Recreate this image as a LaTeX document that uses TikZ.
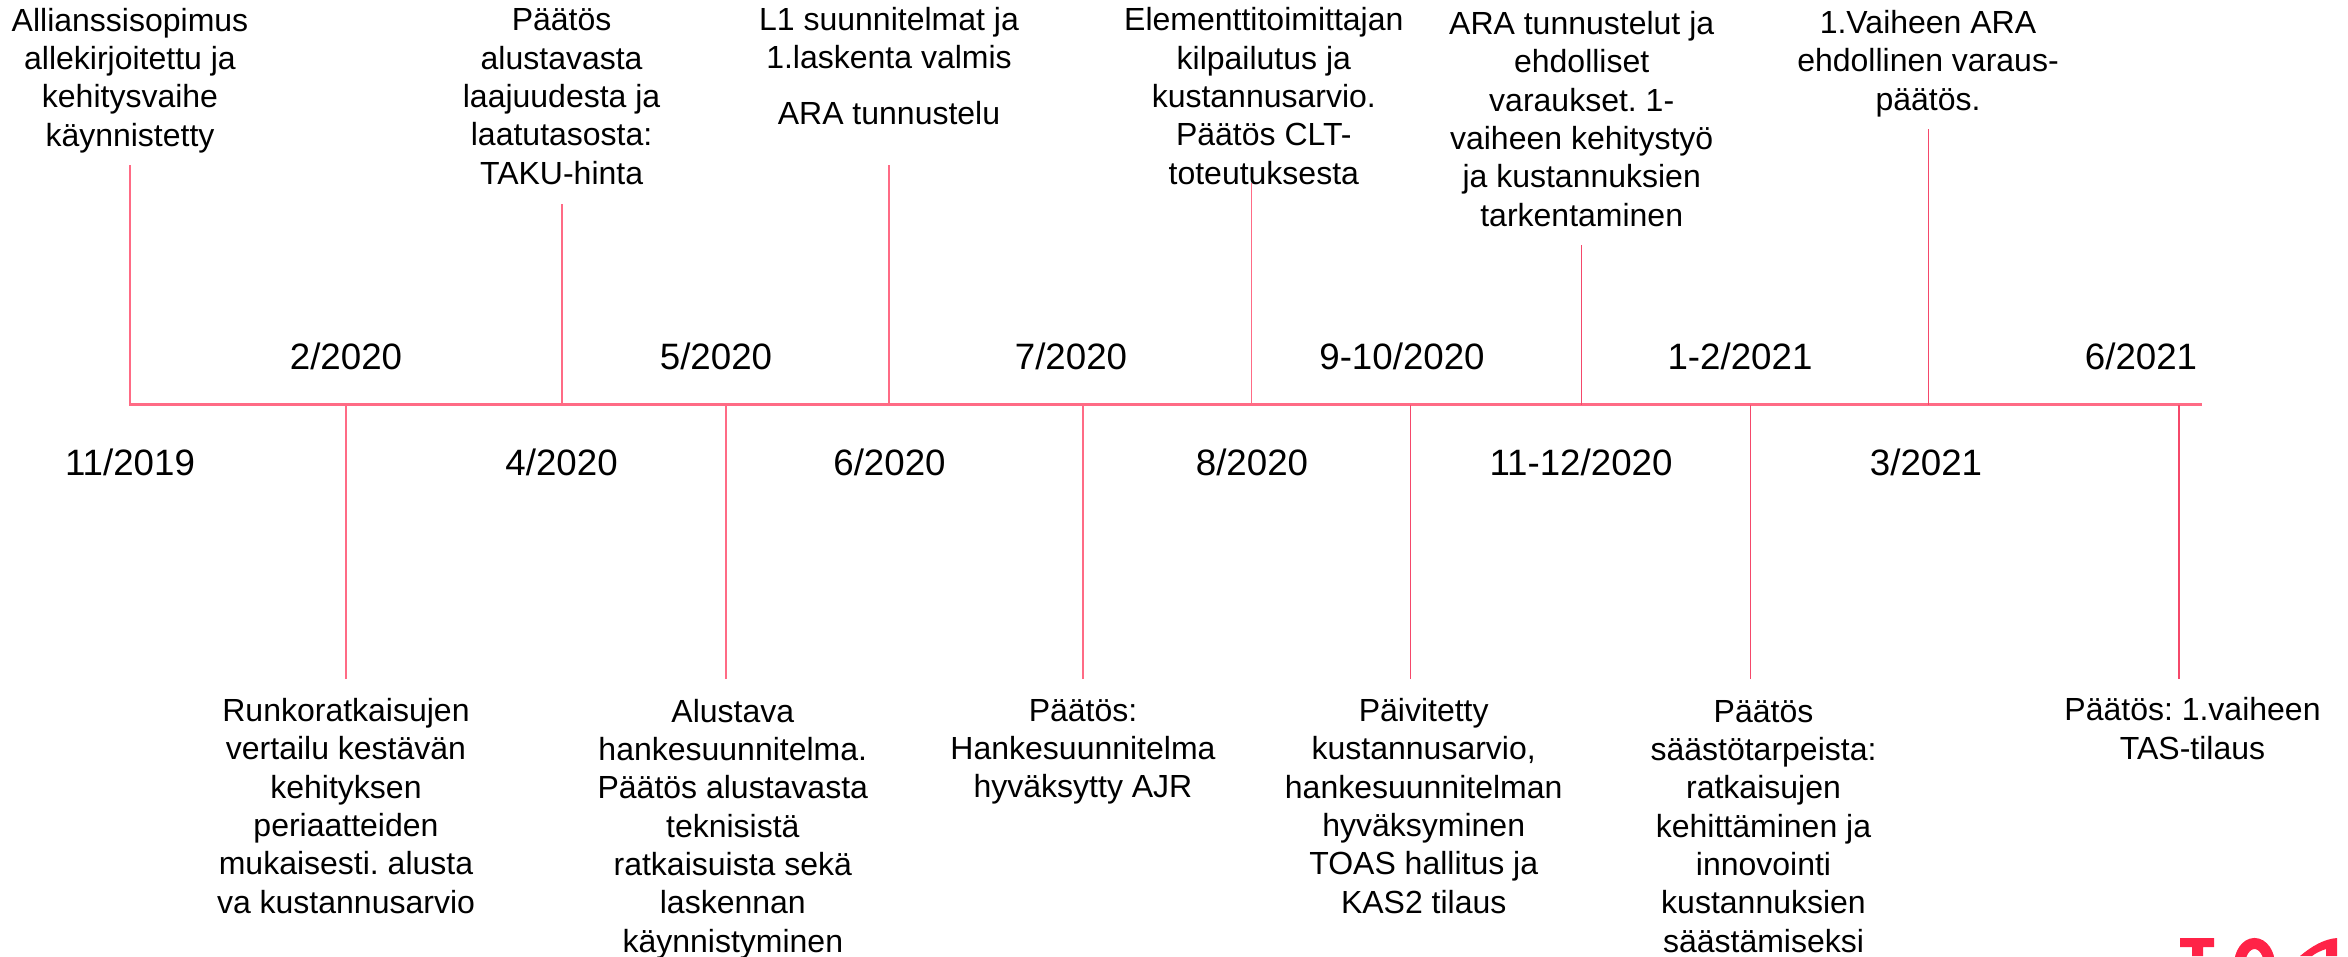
\documentclass[tikz,border=0pt]{standalone}
\usepackage{fontspec}
\setmainfont{Liberation Sans}
\frenchspacing
\definecolor{toasline}{HTML}{FF6B85}
\definecolor{toasthin}{HTML}{F5486A}
\definecolor{toaslogo}{HTML}{FF2347}
\tikzset{
  spine/.style={draw=toasline,line width=2.2pt},
  stem/.style={draw=toasline,line width=1.8pt},
  thinstem/.style={draw=toasthin,line width=1.3pt},
  body/.style={anchor=base,inner sep=0pt,align=center,font=\fontsize{32}{38.3}\selectfont},
  datelabel/.style={anchor=base,inner sep=0pt,font=\fontsize{36.7}{42}\selectfont},
}
\begin{document}
\begin{tikzpicture}[x=1pt,y=-1pt]
\useasboundingbox (0,0) rectangle (2348,956);
% dates
\foreach \n/\x/\t in {d1/346/2\slash 2020,d2/716/5\slash 2020,d3/1071/7\slash 2020,d4/1402/9-10\slash 2020,d5/1740/1-2\slash 2021,d6/2141/6\slash 2021}
  \node[datelabel] (\n) at (\x,369) {\t};
\foreach \n/\x/\t in {e1/130/11\slash 2019,e2/561.6/4\slash 2020,e3/889.5/6\slash 2020,e4/1252/8\slash 2020,e5/1581/11-12\slash 2020,e6/1926/3\slash 2021}
  \node[datelabel] (\n) at (\x,475) {\t};
% text blocks: 'anchor=base' on a multi-line node refers to its last line
\node[body] (a1) at (130,146) {Allianssisopimus\\allekirjoitettu ja\\kehitysvaihe\\käynnistetty};
\node[body] (a2) at (561.6,184) {Päätös\\alustavasta\\laajuudesta ja\\laatutasosta:\\TAKU-hinta};
\node[body] (a3) at (889,124) {L1 suunnitelmat ja\\1.laskenta valmis\\[17pt]ARA tunnustelu};
\node[body] (a4) at (1263.8,184) {Elementtitoimittajan\\kilpailutus ja\\kustannusarvio.\\Päätös CLT-\\toteutuksesta};
\node[body] (a5) at (1581.7,226) {ARA tunnustelut ja\\ehdolliset\\varaukset. 1-\\vaiheen kehitystyö\\ja kustannuksien\\tarkentaminen};
\node[body] (a6) at (1928,110) {1.Vaiheen ARA\\ehdollinen varaus-\\päätös.};
\node[body] (b1) at (346,913) {Runkoratkaisujen\\vertailu kestävän\\kehityksen\\periaatteiden\\mukaisesti. alusta\\va kustannusarvio};
\node[body] (b2) at (732.8,952) {Alustava\\hankesuunnitelma.\\Päätös alustavasta\\teknisistä\\ratkaisuista sekä\\laskennan\\käynnistyminen};
\node[body] (b3) at (1083,797.7) {Päätös:\\Hankesuunnitelma\\hyväksytty AJR};
\node[body] (b4) at (1423.7,913) {Päivitetty\\kustannusarvio,\\hankesuunnitelman\\hyväksyminen\\TOAS hallitus ja\\KAS2 tilaus};
\node[body] (b5) at (1763.5,952) {Päätös\\säästötarpeista:\\ratkaisujen\\kehittäminen ja\\innovointi\\kustannuksien\\säästämiseksi};
\node[body] (b6) at (2192.5,759) {Päätös: 1.vaiheen\\TAS-tilaus};
% spine
\coordinate (s0) at (130,404.5);
\coordinate (s1) at (2201,404.5);
\draw[spine,line cap=rect] (s0) -- (s1);
% upward stems
\foreach \n/\x/\y/\k in {u1/130/165/stem,u2/561.6/204/stem,u3/889.3/165/stem,u4/1251.5/183/stem,u5/1581.7/245/thinstem,u6/1928.3/129/thinstem}{
  \coordinate (\n) at (\x,\y);
  \draw[\k] (\n) -- (\n |- s0);
}
% downward stems
\foreach \n/\x/\k in {v1/346/stem,v2/725.9/stem,v3/1082.7/stem,v4/1410.8/thinstem,v5/1750.6/thinstem,v6/2179/thinstem}{
  \coordinate (\n) at (\x,679);
  \draw[\k] (\n) -- (\n |- s0);
}
% logo, cut by the page edge
\begin{scope}
\clip (2160,925) rectangle (2348,956);
\fill[toaslogo] (2180,938) rectangle (2214,947) (2192,938) rectangle (2203,956);
\draw[toaslogo,line width=11pt] (2254.5,965) ellipse (15 and 21.5);
\fill[toaslogo] (2300,956) .. controls (2312,946) and (2324,939) .. (2337,938) -- (2337,956) -- (2326,956) -- (2326,949) .. controls (2320,951) and (2316,953) .. (2312,956) -- cycle;
\end{scope}
\end{tikzpicture}
\end{document}
